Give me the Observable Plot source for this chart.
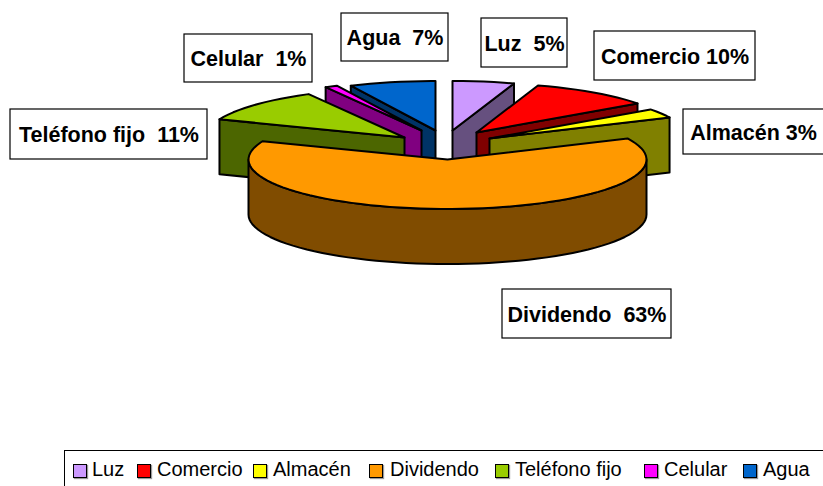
<!DOCTYPE html>
<html><head><meta charset="utf-8">
<script src="https://cdn.jsdelivr.net/npm/d3@7"></script>
<script src="https://cdn.jsdelivr.net/npm/@observablehq/plot@0.6"></script>
<style>
html,body{margin:0;padding:0;background:#fff;overflow:hidden}
#chart{width:823px;height:486px;position:relative;font-family:"Liberation Sans",Arial,sans-serif}
svg{display:block}
svg text{white-space:pre}
#legend{position:relative;height:36px;margin-left:64px;border:1.5px solid #000;border-right:none;border-bottom:none;box-sizing:border-box;width:759px}
#legend span{position:absolute;top:7px;font-size:20px;line-height:22px;color:#000;white-space:nowrap}
#legend i{position:absolute;top:13px;width:12px;height:12px;border:1.5px solid #000;box-shadow:1px 1px 1px #999}
</style></head><body><div id="chart"></div>
<script>
const categories = ["Luz","Comercio","Almacén","Dividendo","Teléfono fijo","Celular","Agua"];
const percents = [5,10,3,63,11,1,7];
const topColors = ["#CC99FF","#FF0000","#FFFF00","#FF9900","#99CC00","#FF00FF","#0066CC"];
const sideColors = ["#66507F","#800000","#808000","#804C00","#4C6600","#800080","#003366"];
const labelGap = ["  "," "," ","  ","  ","  ","  "];

// layout of the drawing (not data)
const W=823,H=450,rx=199,ry=49.5,depth=55;
const apex=[[452,130],[476,132],[489,138],[447,159],[404,137],[421,130],[435,130]];
const drawOrder=[6,0,5,1,4,2,3];
const faceSide={0:"end",1:"end",2:"end",4:"start",5:"start",6:"start"};
const boxes=[[481,18,567,67],[594,31,755,80],[683,109,830,154],[502,289,671,338],[10,109,207,159],[184,34,312,82],[341,13,448,61]];
const total=d3.sum(percents);
const rad=d=>d*Math.PI/180;
let acc=0;
const slices=percents.map((p,i)=>{const a0=acc/total*360;acc+=p;const a1=acc/total*360;
  return {i,a0,a1,ax:apex[i][0],ay:apex[i][1]};});
const rim=(s,a)=>[s.ax+rx*Math.sin(rad(a)),s.ay-ry*Math.cos(rad(a))];
const rows=[];let id=0;
function poly(pts,fill){id++;[...pts,pts[0]].forEach(([x,y])=>rows.push({id,x,y,fill}));}
for(const k of drawOrder){const s=slices[k];
  const arc=[];for(let a=s.a0;a<s.a1;a+=3)arc.push(rim(s,a));arc.push(rim(s,s.a1));
  if(faceSide[k]){const [x,y]=rim(s,faceSide[k]==="end"?s.a1:s.a0);
    poly([[s.ax,s.ay],[x,y],[x,y+depth],[s.ax,s.ay+depth]],sideColors[k]);}
  else{const f=[];for(let a=90;a<=270;a+=3)f.push(rim(s,a));
    poly([...f,...f.slice().reverse().map(([x,y])=>[x,y+depth])],sideColors[k]);}
  poly([[s.ax,s.ay],...arc],topColors[k]);
}
const labels=categories.map((c,i)=>({text:`${c}${labelGap[i]}${percents[i]}%`,x1:boxes[i][0],y1:boxes[i][1],x2:boxes[i][2],y2:boxes[i][3]}));
const plot=Plot.plot({width:W,height:H,margin:0,
  x:{domain:[0,W],range:[0,W],axis:null},y:{domain:[0,H],range:[0,H],axis:null},color:{type:"identity"},
  marks:[
    Plot.line(rows,{x:"x",y:"y",z:"id",fill:"fill",stroke:"#000",strokeWidth:2,strokeLinejoin:"round"}),
    Plot.rect(labels,{x1:"x1",y1:"y1",x2:"x2",y2:"y2",fill:"#fff",stroke:"#000",strokeWidth:1.2}),
    Plot.text(labels,{x:d=>(d.x1+Math.min(d.x2,823))/2,y:d=>(d.y1+d.y2)/2+1,text:"text",fontSize:21.5,fontWeight:"bold",fontFamily:"Liberation Sans",fill:"#000"})
  ]});
const chart=document.getElementById("chart");chart.appendChild(plot);
const legend=document.createElement("div");legend.id="legend";
const swatchX=[72,136,252,368,494,643,742],textX=[91,156,272,389,514,663,762];
categories.forEach((c,i)=>{
  const b=document.createElement("i");b.style.left=(swatchX[i]-64)+"px";b.style.background=topColors[i];legend.appendChild(b);
  const t=document.createElement("span");t.style.left=(textX[i]-64)+"px";t.textContent=c;legend.appendChild(t);
});
chart.appendChild(legend);
</script></body></html>
